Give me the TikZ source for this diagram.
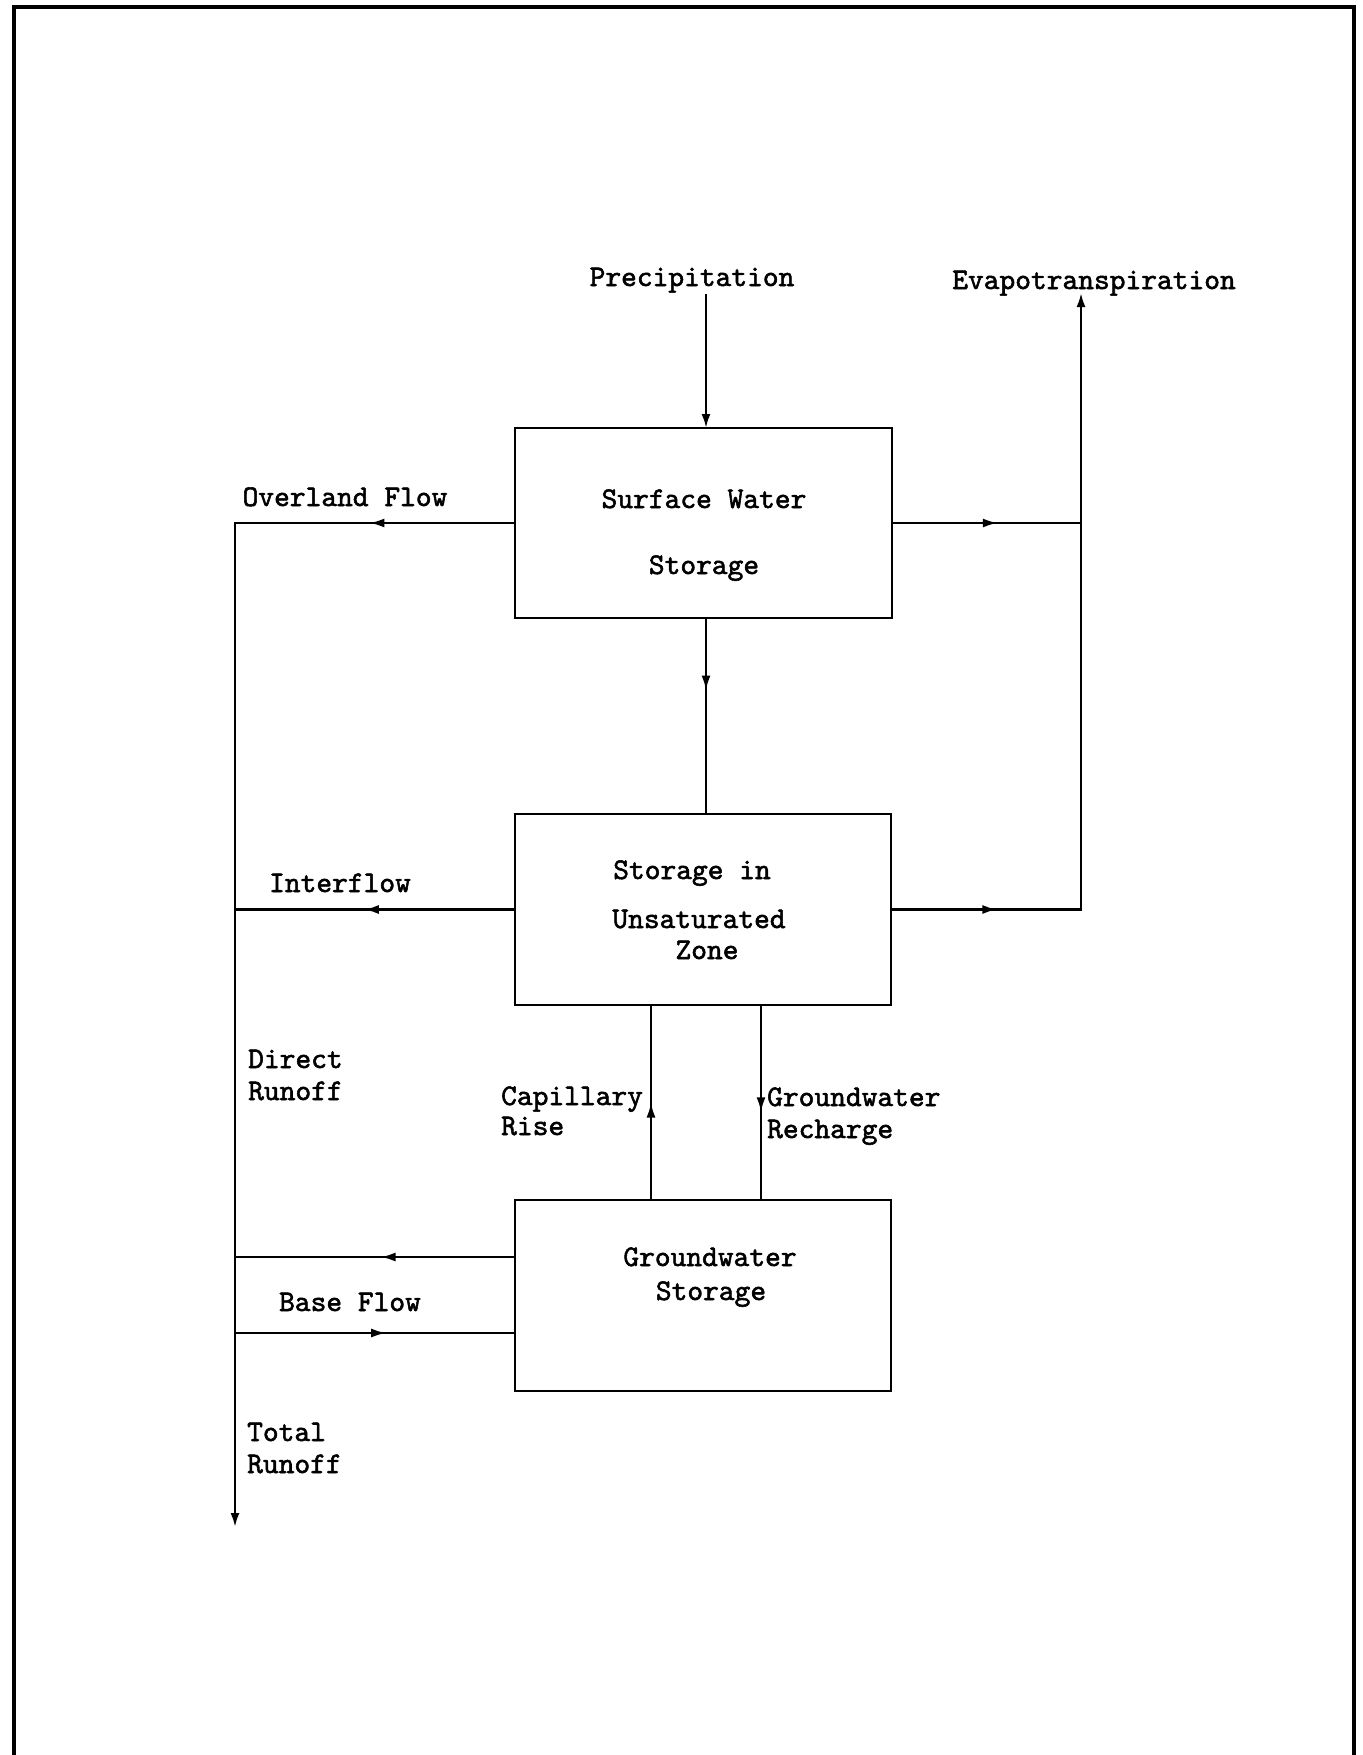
\documentclass[tikz,border=0pt]{standalone}
\usepackage{fontspec}
\newfontfamily\tw{lmmono10-regular.otf}[FakeBold=1.8]
\usetikzlibrary{arrows.meta,decorations.markings}
\begin{document}
\begin{tikzpicture}[x=1pt,y=-1pt,
  box/.style={draw, line width=2.8pt, minimum width=377pt, minimum height=190pt, inner sep=0pt, outer sep=0pt},
  lbl/.style={font=\tw\fontsize{30}{36}\selectfont, inner sep=0pt, anchor=base},
  lbll/.style={lbl, anchor=base west},
  flow/.style={line width=2.4pt, line cap=rect},
  endarrow/.style={flow, -{Latex[length=14pt,width=9pt]}},
  midarrow/.style={flow, postaction={decorate}, decoration={markings, mark=at position #1 with {\arrow{Latex[length=15pt,width=9pt]}}}},
]
\useasboundingbox (0,0) rectangle (1362,1755);
\draw[line width=4pt] (14,1755) -- (14,7) -- (1354,7) -- (1354,1755);

% boxes
\node[box] (sws) at (703.5,523) {};
\node[box, minimum width=376pt, minimum height=191pt] (usz) at (703,909.5) {};
\node[box, minimum width=376pt, minimum height=191pt] (gws) at (703,1295.5) {};

% texts
\node[lbl] (tprec) at (692,286) {Precipitation};
\node[lbl] (tet) at (1094,289) {Evapotranspiration};
\node[lbl] (tsw1) at (704,508) {Surface Water};
\node[lbl] (tsw2) at (704,574) {Storage};
\node[lbl] (tov) at (345,506) {Overland Flow};
\node[lbl] (tint) at (340,892) {Interflow};
\node[lbl] (tu1) at (692,879) {Storage in};
\node[lbl] (tu2) at (699,928) {Unsaturated};
\node[lbl] (tu3) at (707,959) {Zone};
\node[lbll] (tdr1) at (248,1068) {Direct};
\node[lbll] (tdr2) at (248,1100) {Runoff};
\node[lbll] (tcap1) at (501,1105) {Capillary};
\node[lbll] (tcap2) at (501,1135) {Rise};
\node[lbll] (tgr1) at (767,1106) {Groundwater};
\node[lbll] (tgr2) at (767,1138) {Recharge};
\node[lbl] (tg1) at (710,1266) {Groundwater};
\node[lbl] (tg2) at (711,1300) {Storage};
\node[lbl] (tbf) at (350,1311) {Base Flow};
\node[lbll] (ttr1) at (247,1441) {Total};
\node[lbll] (ttr2) at (247,1473) {Runoff};

% coordinates
\coordinate (pstart) at (706,295);
\coordinate (etTop) at (1081,293);
\coordinate (trTop) at (235,522);
\coordinate (trEnd) at (235,1527);
\coordinate (capx) at (651,1100);
\coordinate (rchx) at (761,1100);
\coordinate (bfU) at (235,1257);
\coordinate (bfL) at (235,1333);

% connectors
\draw[endarrow] (pstart) -- (sws.north -| pstart);
\draw[midarrow=0.37] (sws.south -| pstart) -- (usz.north -| pstart);
\draw[midarrow=0.56] (sws.east) -- (sws.east -| etTop);
\draw[midarrow=0.56] (usz.east) -- (usz.east -| etTop);
\draw[endarrow] (usz.east -| etTop) -- (etTop);
\draw[midarrow=0.52] (sws.west) -- (sws.west -| trTop);
\draw[endarrow] (sws.west -| trTop) -- (trEnd);
\draw[midarrow=0.54] (usz.west) -- (usz.west -| trTop);
\draw[midarrow=0.50] (gws.north -| capx) -- (usz.south -| capx);
\draw[midarrow=0.55] (usz.south -| rchx) -- (gws.north -| rchx);
\draw[midarrow=0.48] (gws.west |- bfU) -- (bfU);
\draw[midarrow=0.54] (bfL) -- (gws.west |- bfL);
\end{tikzpicture}
\end{document}
